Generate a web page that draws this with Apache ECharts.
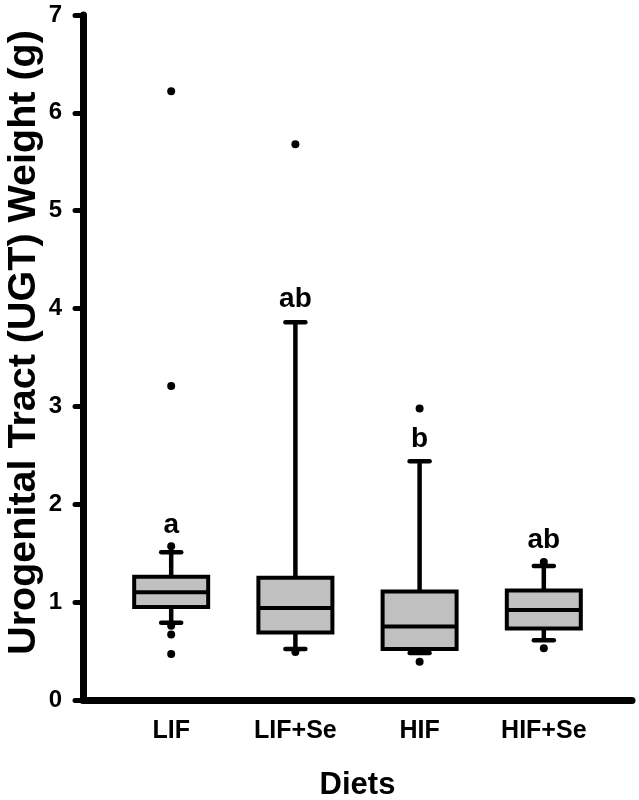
<!DOCTYPE html>
<html>
<head>
<meta charset="utf-8">
<script src="https://cdn.jsdelivr.net/npm/echarts@6/dist/echarts.min.js"></script>
<style>
html,body{margin:0;padding:0;background:#fff;}
#chart{width:639px;height:800px;}
</style>
</head>
<body>
<div id="chart"></div>
<script>
// ---- data ----
const categories = ['LIF', 'LIF+Se', 'HIF', 'HIF+Se'];
const boxMin    = [0.79, 0.52, 0.48, 0.61];
const boxQ1     = [0.95, 0.69, 0.52, 0.73];
const boxMedian = [1.10, 0.94, 0.75, 0.92];
const boxQ3     = [1.26, 1.25, 1.11, 1.12];
const boxMax    = [1.51, 3.86, 2.44, 1.37];
const outlierValues = [
  [6.22, 3.21, 1.57, 0.76, 0.67, 0.47],
  [5.68, 0.49],
  [2.98, 0.39],
  [1.41, 0.53]
];
const groupLetters = ['a', 'ab', 'b', 'ab'];
const letterY = [1.79, 4.09, 2.66, 1.63];
const yMin = 0, yMax = 7, yInterval = 1;
const yTitle = 'Urogenital Tract (UGT) Weight (g)';
const xTitle = 'Diets';

// ---- build series data ----
const boxData = categories.map((c, i) => [i + 1, boxMin[i], boxQ1[i], boxMedian[i], boxQ3[i], boxMax[i]]);
const outlierData = [];
outlierValues.forEach((vals, i) => vals.forEach(v => outlierData.push([i + 1, v])));
const letterData = groupLetters.map((t, i) => ({ value: [i + 1, letterY[i]], label: { formatter: t } }));

const FONT = '"Liberation Sans", Arial, Helvetica, sans-serif';
const chart = echarts.init(document.getElementById('chart'), null, { renderer: 'canvas' });

const BOX_W = 74, CAP_W = 20;

chart.setOption({
  backgroundColor: '#ffffff',
  animation: false,
  grid: { left: 83, right: 7, top: 15, bottom: 100, containLabel: false, outerBoundsMode: 'none' },
  xAxis: {
    type: 'value',
    min: 0.29,
    max: 4.71,
    name: xTitle,
    nameLocation: 'middle',
    nameGap: 70,
    nameMoveOverlap: false,
    nameTextStyle: { fontFamily: FONT, fontWeight: 'bold', fontSize: 31, color: '#000' },
    axisLine: { show: true, onZero: false, lineStyle: { color: '#000', width: 7, cap: 'round' } },
    axisTick: { show: false },
    splitLine: { show: false },
    axisLabel: {
      customValues: [1, 2, 3, 4],
      formatter: v => categories[Math.round(v) - 1] || '',
      fontFamily: FONT, fontWeight: 'bold', fontSize: 25, color: '#000', margin: 19
    }
  },
  yAxis: {
    type: 'value',
    min: yMin, max: yMax, interval: yInterval,
    name: yTitle,
    nameLocation: 'middle',
    nameGap: 39,
    nameRotate: 90,
    nameMoveOverlap: false,
    nameTextStyle: { fontFamily: FONT, fontWeight: 'bold', fontSize: 39.5, color: '#000', padding: [0, 0, 0, 30] },
    axisLine: { show: true, lineStyle: { color: '#000', width: 7, cap: 'round' } },
    axisTick: { show: true, length: 8, lineStyle: { color: '#000', width: 5, cap: 'round' } },
    splitLine: { show: false },
    axisLabel: { fontFamily: FONT, fontWeight: 'bold', fontSize: 24, color: '#000', margin: 21 }
  },
  series: [
    {
      type: 'custom',
      data: boxData,
      encode: { x: 0, y: [1, 2, 3, 4, 5] },
      z: 2,
      renderItem: function (params, api) {
        const x = api.value(0);
        const pMin = api.coord([x, api.value(1)]);
        const pQ1 = api.coord([x, api.value(2)]);
        const pMed = api.coord([x, api.value(3)]);
        const pQ3 = api.coord([x, api.value(4)]);
        const pMax = api.coord([x, api.value(5)]);
        const cx = pMed[0];
        const lineStyle = { stroke: '#000', lineWidth: 4.5 };
        return {
          type: 'group',
          children: [
            { type: 'line', shape: { x1: cx, y1: pQ3[1], x2: cx, y2: pMax[1] }, style: lineStyle },
            { type: 'line', shape: { x1: cx, y1: pQ1[1], x2: cx, y2: pMin[1] }, style: lineStyle },
            { type: 'line', shape: { x1: cx - CAP_W / 2, y1: pMax[1], x2: cx + CAP_W / 2, y2: pMax[1] }, style: { stroke: '#000', lineWidth: 4.5, lineCap: 'round' } },
            { type: 'line', shape: { x1: cx - CAP_W / 2, y1: pMin[1], x2: cx + CAP_W / 2, y2: pMin[1] }, style: { stroke: '#000', lineWidth: 4.5, lineCap: 'round' } },
            { type: 'rect', shape: { x: cx - BOX_W / 2, y: pQ3[1], width: BOX_W, height: pQ1[1] - pQ3[1] }, style: { fill: '#c0c0c0', stroke: '#000', lineWidth: 4 } },
            { type: 'line', shape: { x1: cx - BOX_W / 2, y1: pMed[1], x2: cx + BOX_W / 2, y2: pMed[1] }, style: { stroke: '#000', lineWidth: 4 } }
          ]
        };
      }
    },
    {
      type: 'scatter',
      data: outlierData,
      symbol: 'circle',
      symbolSize: 8,
      itemStyle: { color: '#000', opacity: 1 },
      z: 3
    },
    {
      type: 'scatter',
      data: letterData,
      symbolSize: 0,
      itemStyle: { color: '#000', opacity: 1 },
      label: {
        show: true,
        position: 'inside',
        align: 'center',
        verticalAlign: 'middle',
        fontFamily: FONT, fontWeight: 'bold', fontSize: 28, color: '#000', opacity: 1
      },
      z: 4
    }
  ]
});
</script>
</body>
</html>
